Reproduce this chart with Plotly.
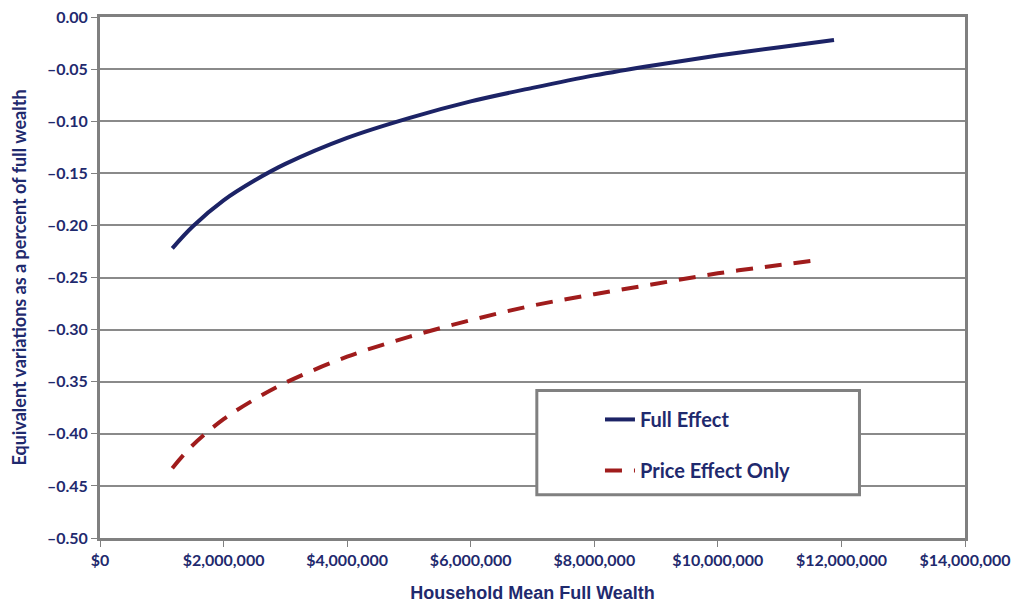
import plotly.graph_objects as go

# household mean full wealth (dollars)
wealth_full = [1170000, 1500000, 2000000, 2500000, 3000000, 4000000, 5000000, 6000000,
               7000000, 8000000, 9000000, 10000000, 11000000, 11880000]
ev_full = [-0.222, -0.201, -0.176, -0.157, -0.141, -0.116, -0.097, -0.081,
           -0.068, -0.056, -0.046, -0.037, -0.029, -0.022]

wealth_price = [1170000, 1500000, 2000000, 2500000, 3000000, 4000000, 5000000, 6000000,
                7000000, 8000000, 9000000, 10000000, 11000000, 11650000]
ev_price = [-0.433, -0.411, -0.386, -0.367, -0.351, -0.326, -0.307, -0.291,
            -0.277, -0.266, -0.256, -0.246, -0.238, -0.233]

x_ticks = [0, 2000000, 4000000, 6000000, 8000000, 10000000, 12000000, 14000000]
x_labels = ["$0", "$2,000,000", "$4,000,000", "$6,000,000", "$8,000,000",
            "$10,000,000", "$12,000,000", "$14,000,000"]
y_ticks = [0, -0.05, -0.10, -0.15, -0.20, -0.25, -0.30, -0.35, -0.40, -0.45, -0.50]
y_labels = ["0.00", "–0.05", "–0.10", "–0.15", "–0.20", "–0.25", "–0.30", "–0.35",
            "–0.40", "–0.45", "–0.50"]

navy = '#1c2366'
red = '#a01c1c'
txt = '#1f2a6e'
gray = '#808080'
tfont = dict(family='Lato', color=txt, size=16, weight='bold')

fig = go.Figure()
fig.add_trace(go.Scatter(x=wealth_full, y=ev_full, mode='lines', name='Full Effect',
                         legendgroup='a', line=dict(color=navy, width=4, shape='spline')))
fig.add_trace(go.Scatter(x=wealth_price, y=ev_price, mode='lines', name='Price Effect Only',
                         legendgroup='b',
                         line=dict(color=red, width=4, dash='17px,12px', shape='spline')))

fig.update_xaxes(range=[0, 14000000], tickvals=x_ticks, ticktext=x_labels, automargin=False,
                 ticklabeloverflow='allow',
                 showgrid=False, showline=True, linecolor=gray, linewidth=3, mirror=True,
                 ticks='outside', ticklen=6, tickcolor=gray, tickwidth=1,
                 tickfont=tfont,
                 title=dict(text='Household Mean Full Wealth',
                            font=dict(family='Liberation Sans', color=txt, size=18, weight='bold'),
                            standoff=19))
fig.update_yaxes(range=[-0.5, 0], tickvals=y_ticks, ticktext=y_labels, automargin=False,
                 ticklabeloverflow='allow',
                 showgrid=True, gridcolor='#8a8a8a', gridwidth=2, zeroline=False,
                 showline=True, linecolor=gray, linewidth=3, mirror=True,
                 ticks='outside', ticklen=6, tickcolor=gray, tickwidth=1,
                 tickfont=tfont,
                 title=dict(text='Equivalent variations as a percent of full wealth',
                            font=dict(family='Lato', color=txt, size=18, weight='bold'),
                            standoff=17))

# legend frame
fig.add_shape(type='rect', xref='paper', yref='paper', x0=0.505, x1=0.878, y0=0.083, y1=0.283,
              line=dict(color=gray, width=3), fillcolor='white', layer='above')

# page body has an 8px margin, so the figure is offset by 8px
fig.update_layout(width=1011, height=597, plot_bgcolor='white', paper_bgcolor='white',
                  margin={'l': 92, 'r': 54, 't': 9, 'b': 67},
                  legend=dict(x=0.578, y=0.265, xanchor='left', yanchor='top',
                              bgcolor='rgba(0,0,0,0)', tracegroupgap=22,
                              font=dict(family='Lato', color=txt, size=20, weight='bold')))

fig.write_html("out.html")
